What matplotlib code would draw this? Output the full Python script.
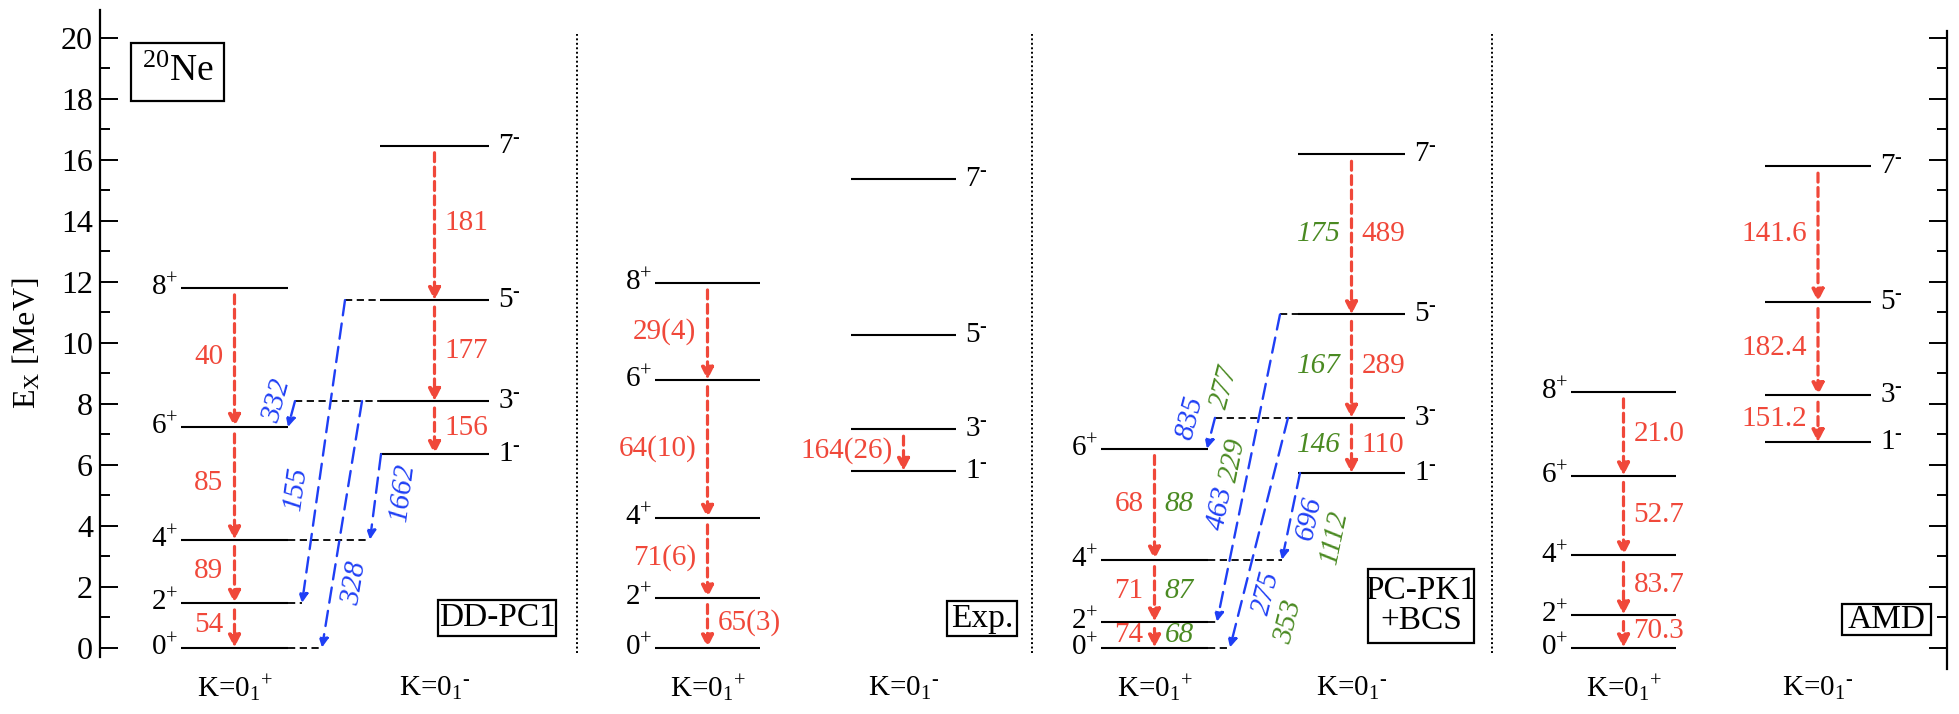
"""
Level scheme of 20Ne: DD-PC1, Exp., PC-PK1+BCS and AMD
"""
import math
import matplotlib
matplotlib.use('Agg')
import matplotlib.pyplot as plt
from matplotlib.patches import Rectangle
from matplotlib.ticker import MultipleLocator

plt.rcParams['font.family'] = 'Liberation Serif'
plt.rcParams['mathtext.fontset'] = 'custom'
plt.rcParams['mathtext.rm'] = 'Liberation Serif'
plt.rcParams['mathtext.it'] = 'Liberation Serif:italic'

RED = '#f0483a'
BLUE = '#1f3ff5'
GREEN = '#4a8a22'

# ---- data (energies in MeV, B(E2)/B(E3) values as printed) ----
spins_pos = ['0', '2', '4', '6', '8']
spins_neg = ['1', '3', '5', '7']

ddpc1_pos = [0.0, 1.46, 3.54, 7.23, 11.79]
ddpc1_neg = [6.34, 8.08, 11.39, 16.45]
ddpc1_be2_pos = ['54', '89', '85', '40']
ddpc1_be2_neg = ['156', '177', '181']
ddpc1_cross = ['332', '155', '328', '1662']

exp_pos = [0.0, 1.634, 4.248, 8.778, 11.951]
exp_neg = [5.788, 7.156, 10.262, 15.366]
exp_be2_pos = ['65(3)', '71(6)', '64(10)', '29(4)']
exp_be2_neg = ['164(26)']

pcpk1_pos = [0.0, 0.85, 2.88, 6.52]
pcpk1_neg = [5.72, 7.53, 10.92, 16.17]
pcpk1_be2_pos = ['74', '71', '68']
pcpk1_be2_pos_b = ['68', '87', '88']
pcpk1_be2_neg = ['110', '289', '489']
pcpk1_be2_neg_b = ['146', '167', '175']
pcpk1_cross = ['835', '463', '275', '696']
pcpk1_cross_b = ['277', '229', '353', '1112']

amd_pos = [0.0, 1.08, 3.02, 5.64, 8.38]
amd_neg = [6.73, 8.27, 11.34, 15.78]
amd_be2_pos = ['70.3', '83.7', '52.7', '21.0']
amd_be2_neg = ['151.2', '182.4', '141.6']

# (K- level index, K+ level index) of the inter-band transitions
cross_pairs = [(1, 3), (2, 1), (1, 0), (0, 2)]

# ---- layout (x in pixels of the original figure) ----
W, H = 1959, 714
X_LEFT, X_RIGHT = 100, 1947
YMIN, YMAX = -0.7, 20.9
FS = 21

fig = plt.figure(figsize=(W / 100, H / 100), dpi=100)
ax = fig.add_axes([X_LEFT / W, 0.0632, (X_RIGHT - X_LEFT) / W, 0.9227])
ax.set_xlim(X_LEFT, X_RIGHT)
ax.set_ylim(YMIN, YMAX)

for side in ['top', 'bottom']:
    ax.spines[side].set_visible(False)
ax.spines['left'].set_bounds(-0.3, 20.9)
ax.spines['right'].set_bounds(-0.7, 20.2)
for side in ['left', 'right']:
    ax.spines[side].set_linewidth(1.6)
ax.xaxis.set_visible(False)
ax.yaxis.set_major_locator(MultipleLocator(2))
ax.yaxis.set_minor_locator(MultipleLocator(1))
ax.tick_params(axis='y', which='both', direction='in', left=True, right=True,
               width=1.4, labelsize=23, pad=5)
ax.tick_params(axis='y', which='major', length=13)
ax.tick_params(axis='y', which='minor', length=7)
ax.set_ylabel(r'E$_{\rm X}$ [MeV]', fontsize=23)
ax.yaxis.set_label_coords(-0.031, 0.494)


def sup(parity):
    return r'$^{+}$' if parity == '+' else r'$^{\text{-}}$'


def level(x0, x1, e, text, side):
    ax.plot([x0, x1], [e, e], color='k', lw=1.5, solid_capstyle='butt')
    if side == 'l':
        ax.text(x0 - 3, e, text, ha='right', va='center', fontsize=FS)
    else:
        ax.text(x1 + 9, e, text, ha='left', va='center', fontsize=FS)


def red_arrow(x, e_hi, e_lo):
    ax.annotate('', xy=(x, e_lo), xytext=(x, e_hi),
                arrowprops=dict(arrowstyle='-|>', color=RED, lw=2.3,
                                ls=(0, (2.8, 1.7)), shrinkA=5, shrinkB=0,
                                mutation_scale=18))


def band(xs, energies, spins, parity, side, be2_sets):
    x0, x1 = xs
    xc = 0.5 * (x0 + x1)
    for e, s in zip(energies, spins):
        level(x0, x1, e, s + sup(parity), side)
    n_arrows = len(be2_sets[0][0])
    for i in range(n_arrows):
        red_arrow(xc, energies[i + 1], energies[i])
    # labels: each set = (values, color, italic, sides)
    for values, color, italic, sides in be2_sets:
        for i, v in enumerate(values):
            em = 0.5 * (energies[i] + energies[i + 1])
            if sides[i] == 'l':
                ax.text(xc - 11, em, v, ha='right', va='center', fontsize=FS,
                        color=color, style='italic' if italic else 'normal')
            else:
                ax.text(xc + 10, em, v, ha='left', va='center', fontsize=FS,
                        color=color, style='italic' if italic else 'normal')
    return xc


def k_label(xc, parity):
    ax.text(xc, -1.35, r'K=0$_1$' + sup(parity), ha='center', va='center',
            fontsize=FS)


def screen_angle(p0, p1):
    a = ax.transData.transform(p0)
    b = ax.transData.transform(p1)
    return math.degrees(math.atan2(b[1] - a[1], b[0] - a[0]))


def cross(pos_e, neg_e, xpos, xneg, xs_start, xs_end, label_sets):
    ext_pos = {}
    ext_neg = {}
    for k, (n, p) in enumerate(cross_pairs):
        xa, xb = xs_start[k], xs_end[k]
        ea, eb = neg_e[n], pos_e[p]
        ax.annotate('', xy=(xb, eb), xytext=(xa, ea),
                    arrowprops=dict(arrowstyle='-|>', color=BLUE, lw=1.7,
                                    ls=(0, (6.5, 3.5)), shrinkA=0, shrinkB=0,
                                    mutation_scale=14))
        ext_pos[p] = max(ext_pos.get(p, xpos[1]), xb)
        ext_neg[n] = min(ext_neg.get(n, xneg[0]), xa)
        ang = screen_angle((xb, eb), (xa, ea))
        for values, color, places in label_sets:
            frac, dx = places[k]
            lx = xb + frac * (xa - xb) + dx
            ly = eb + frac * (ea - eb)
            ax.text(lx, ly, values[k], ha='center', va='center', fontsize=FS,
                    color=color, style='italic', rotation=ang,
                    rotation_mode='anchor')
    for p, xe in ext_pos.items():
        if xe > xpos[1]:
            ax.plot([xpos[1], xe], [pos_e[p], pos_e[p]], color='k', lw=1.3,
                    ls=(0, (4, 2.5)))
    for n, xe in ext_neg.items():
        if xe < xneg[0]:
            ax.plot([xe, xneg[0]], [neg_e[n], neg_e[n]], color='k', lw=1.3,
                    ls=(0, (4, 2.5)))


def box(x0, x1, e0, e1, text, fs=24):
    ax.add_patch(Rectangle((x0, e0), x1 - x0, e1 - e0, fill=False, ec='k', lw=1.6))
    ax.text(0.5 * (x0 + x1), 0.5 * (e0 + e1), text, ha='center', va='center',
            fontsize=fs, linespacing=0.95)


# separators
for xsep in [577, 1032, 1492]:
    ax.plot([xsep, xsep], [-0.18, 20.1], color='k', lw=1.4, ls=(0, (1, 1.3)))

# DD-PC1
xc = band((181, 288), ddpc1_pos, spins_pos, '+', 'l',
          [(ddpc1_be2_pos, RED, False, 'llll')])
k_label(xc, '+')
xc = band((380, 489), ddpc1_neg, spins_neg, '-', 'r',
          [(ddpc1_be2_neg, RED, False, 'rrr')])
k_label(xc, '-')
cross(ddpc1_pos, ddpc1_neg, (181, 288), (380, 489),
      [295, 345, 362, 381], [288, 302, 322, 370],
      [(ddpc1_cross, BLUE, [(1.02, -18), (0.38, -22), (0.26, 22), (0.56, 27)])])
box(131, 224, 17.92, 19.82, r'$^{20}$Ne', fs=27)
box(438, 556, 0.37, 1.57, 'DD-PC1')

# Exp.
xc = band((655, 760), exp_pos, spins_pos, '+', 'l',
          [(exp_be2_pos, RED, False, 'rlll')])
k_label(xc, '+')
xc = band((851, 956), exp_neg, spins_neg, '-', 'r',
          [(exp_be2_neg, RED, False, 'l')])
k_label(xc, '-')
box(947, 1017, 0.37, 1.53, 'Exp.')

# PC-PK1 + BCS
xc = band((1101, 1208), pcpk1_pos, spins_pos[:4], '+', 'l',
          [(pcpk1_be2_pos, RED, False, 'lll'),
           (pcpk1_be2_pos_b, GREEN, True, 'rrr')])
k_label(xc, '+')
xc = band((1298, 1405), pcpk1_neg, spins_neg, '-', 'r',
          [(pcpk1_be2_neg, RED, False, 'rrr'),
           (pcpk1_be2_neg_b, GREEN, True, 'lll')])
k_label(xc, '-')
cross(pcpk1_pos, pcpk1_neg, (1101, 1208), (1298, 1405),
      [1215, 1280, 1288, 1300], [1207, 1217, 1230, 1282],
      [(pcpk1_cross, BLUE, [(0.98, -25), (0.371, -20), (0.239, 23), (0.484, 19)]),
       (pcpk1_cross_b, GREEN, [(2.0, 2), (0.525, -17), (0.111, 52), (0.258, 48)])])
box(1368, 1474, 0.15, 2.58, 'PC-PK1\n+BCS')

# AMD
xc = band((1571, 1676), amd_pos, spins_pos, '+', 'l',
          [(amd_be2_pos, RED, False, 'rrrr')])
k_label(xc, '+')
xc = band((1765, 1871), amd_neg, spins_neg, '-', 'r',
          [(amd_be2_neg, RED, False, 'lll')])
k_label(xc, '-')
box(1842, 1931, 0.4, 1.42, 'AMD')

fig.savefig('out.png', dpi=100)
